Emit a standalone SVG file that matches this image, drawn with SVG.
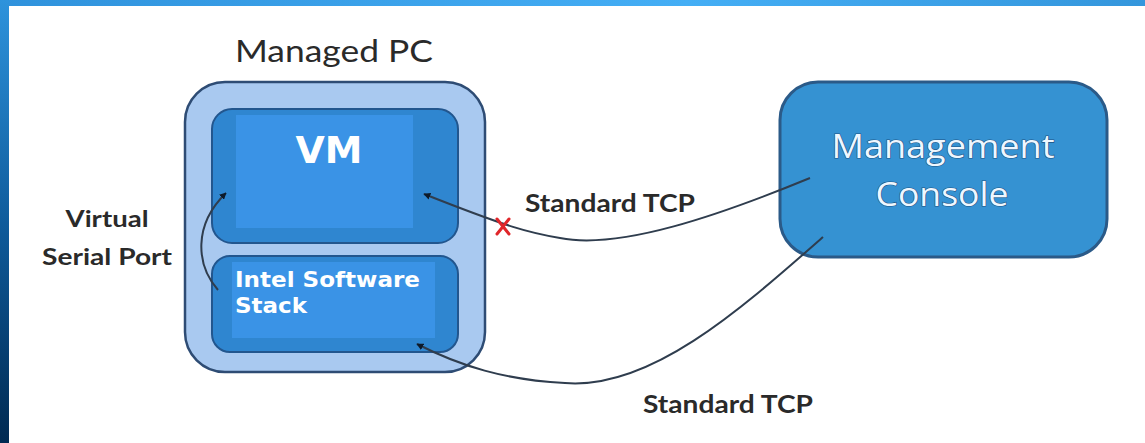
<svg xmlns="http://www.w3.org/2000/svg" width="1145" height="443" viewBox="0 0 1145 443">
<defs>
<linearGradient id="leftBand" x1="0" y1="0" x2="0" y2="1">
<stop offset="0" stop-color="#2e93dc"/>
<stop offset="0.5" stop-color="#0f5c9c"/>
<stop offset="1" stop-color="#002a52"/>
</linearGradient>
<linearGradient id="topBand" x1="0" y1="0" x2="1" y2="0">
<stop offset="0" stop-color="#2f92dc"/>
<stop offset="0.6" stop-color="#44aef5"/>
<stop offset="1" stop-color="#3496dc"/>
</linearGradient>
<marker id="ah" viewBox="0 0 10 10" refX="9" refY="5" markerWidth="7" markerHeight="7" orient="auto" markerUnits="userSpaceOnUse">
<path d="M0,0 L10,5 L0,10 Z" fill="#0d1a2a"/>
</marker>
<style>
.lbl{font-family:"Lato","Liberation Sans",sans-serif;font-weight:bold;fill:#2a2a2a}
.inner{fill:#2f86d0;stroke:#22568e;stroke-width:2}
.hi{fill:#3a93e6}
.wb{font-family:"DejaVu Sans","Verdana",sans-serif;font-weight:bold;fill:#ffffff}
.mc{font-family:"Open Sans","Liberation Sans",sans-serif;font-size:32px;fill:#eef7ff;stroke:#1c5384;stroke-width:1.2;paint-order:stroke}
.conn{fill:none;stroke:#2f3d4e;stroke-width:2}
</style>
</defs>
<rect x="0" y="0" width="1145" height="443" fill="#ffffff"/>
<rect x="0" y="0" width="1145" height="6" fill="url(#topBand)"/>
<rect x="0" y="0" width="9" height="443" fill="url(#leftBand)"/>

<g id="managed-pc">
<text x="235" y="62" font-family="Lato, 'Liberation Sans', sans-serif" font-size="31" fill="#2a2a2a" textLength="198" lengthAdjust="spacingAndGlyphs">Managed PC</text>
<rect x="185" y="82" width="300" height="290" rx="40" fill="#a9c9f0" stroke="#2e4c74" stroke-width="2.5"/>
</g>

<g id="vm">
<rect class="inner" x="212" y="109" width="246" height="134" rx="20"/>
<rect class="hi" x="236" y="115" width="177" height="113"/>
<text class="wb" x="329" y="163" font-size="38" text-anchor="middle" textLength="67" lengthAdjust="spacingAndGlyphs">VM</text>
</g>

<g id="intel-stack">
<rect class="inner" x="212" y="256" width="246" height="96" rx="18"/>
<rect class="hi" x="232" y="262" width="203" height="76"/>
<text class="wb" x="235" y="287" font-size="20.5" textLength="185" lengthAdjust="spacingAndGlyphs">Intel Software</text>
<text class="wb" x="235" y="313" font-size="20.5" textLength="72" lengthAdjust="spacingAndGlyphs">Stack</text>
</g>

<g id="management-console">
<rect x="780" y="82" width="327" height="175" rx="38" fill="#3592d2" stroke="#2b5a88" stroke-width="3"/>
<text class="mc" x="943" y="158" text-anchor="middle" textLength="223" lengthAdjust="spacingAndGlyphs">Management</text>
<text class="mc" x="942" y="206" text-anchor="middle" textLength="133" lengthAdjust="spacingAndGlyphs">Console</text>
</g>

<g id="labels">
<text class="lbl" x="107" y="227" font-size="23" text-anchor="middle" textLength="83" lengthAdjust="spacingAndGlyphs">Virtual</text>
<text class="lbl" x="107" y="265" font-size="23" text-anchor="middle" textLength="130" lengthAdjust="spacingAndGlyphs">Serial Port</text>
<text class="lbl" x="525" y="212" font-size="24" textLength="170" lengthAdjust="spacingAndGlyphs">Standard TCP</text>
<text class="lbl" x="643" y="413" font-size="24" textLength="170" lengthAdjust="spacingAndGlyphs">Standard TCP</text>
</g>

<g id="connectors">
<path class="conn" d="M810,178 C720,215 620,250 560,238 C530,233 510,228 424,194" marker-end="url(#ah)"/>
<path class="conn" d="M823,237 C740,310 650,390 565,383 C505,380 460,366 417,344" marker-end="url(#ah)"/>
<path class="conn" d="M218,290 C196,265 193,225 226,193" marker-end="url(#ah)"/>
<g id="blocked" stroke="#e0262a" stroke-width="3" stroke-linecap="round">
<line x1="497" y1="219" x2="509" y2="234"/>
<line x1="509" y1="219" x2="497" y2="234"/>
</g>
</g>
</svg>
